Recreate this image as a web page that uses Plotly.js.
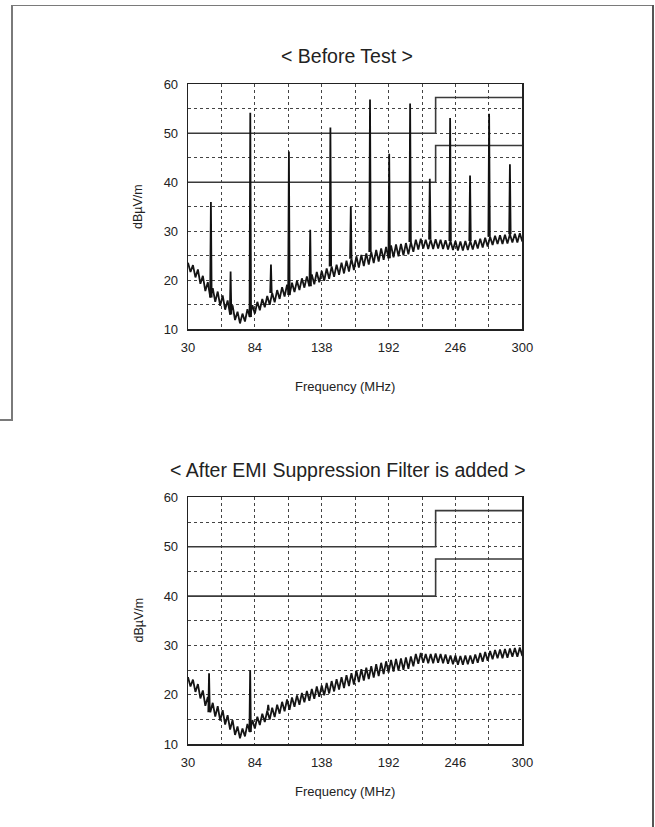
<!DOCTYPE html>
<html>
<head>
<meta charset="utf-8">
<script src="https://cdn.plot.ly/plotly-3.0.1.min.js"></script>
<style>
  html, body { margin: 0; padding: 0; background: #fff; }
  #wrap { position: relative; width: 655px; height: 827px; overflow: hidden; }
  #chart { position: absolute; left: 0; top: 0; width: 655px; height: 827px; }
  .fr { position: absolute; background: #7a7a7a; z-index: 10; pointer-events: none; }
</style>
</head>
<body>
<div id="wrap">
  <div id="chart"></div>
  <div class="fr" style="left:11px; top:5px; width:642px; height:1px;"></div>
  <div class="fr" style="left:11px; top:5px; width:1.5px; height:415px;"></div>
  <div class="fr" style="left:0px; top:419px; width:12.5px; height:1.5px;"></div>
  <div class="fr" style="left:652px; top:5px; width:1.5px; height:822px; background:#555;"></div>
</div>
<script>
// ---- data ----
var freqStart = 30;   // MHz
var freqStep = 2;     // MHz between noise-floor samples
var noiseFloor = [
  23.6, 21.7, 23.1, 20.6, 22.2, 19.3, 20.9, 17.8, 19.6, 16.5,
  18.4, 15.6, 17.7, 14.8, 16.9, 14.0, 15.9, 13.0, 14.9, 11.9,
  13.6, 11.2, 13.2, 11.6, 14.1, 12.5, 14.9, 13.2, 15.6, 13.9,
  16.2, 14.5, 16.8, 15.0, 17.4, 15.5, 18.0, 16.2, 18.6, 16.7,
  19.1, 17.0, 19.5, 17.6, 19.9, 18.0, 20.4, 18.5, 20.8, 18.8,
  21.2, 19.2, 21.7, 19.6, 21.9, 19.9, 22.4, 20.3, 22.8, 20.7,
  23.2, 21.1, 23.6, 21.4, 24.0, 21.8, 24.4, 22.1, 24.9, 22.6,
  25.2, 22.9, 25.5, 23.2, 25.8, 23.5, 26.2, 23.8, 26.5, 24.2,
  26.8, 24.5, 27.1, 24.7, 27.3, 24.9, 27.4, 25.1, 27.6, 25.3,
  27.8, 25.8, 28.3, 26.3, 28.5, 26.5, 28.3, 26.4, 28.3, 26.4,
  28.4, 26.5, 28.3, 26.4, 28.2, 26.3, 28.0, 26.2, 28.0, 26.1,
  27.9, 26.1, 28.0, 26.2, 28.0, 26.3, 28.2, 26.5, 28.5, 26.7,
  28.7, 26.9, 28.9, 27.2, 29.1, 27.4, 29.2, 27.4, 29.3, 27.5,
  29.4, 27.7, 29.5, 27.7, 29.6, 27.9
];
var beforeSpikeFreq = [48.5, 64.4, 80.3, 97, 111.5, 128.7, 145, 161.5, 177, 192.5, 209.4, 225.3, 241.7, 257.8, 273.2, 290];
var beforeSpikePeak = [36.0, 21.8, 54.2, 23.2, 46.3, 30.3, 51.2, 35.0, 56.9, 45.8, 56.1, 40.7, 53.1, 41.4, 54.0, 43.7];
var afterSpikeFreq = [47, 80.2, 94.8];
var afterSpikePeak = [24.4, 25.0, 18.0];

var limitFreq = [30, 230, 230, 300];
var limitLow = [40, 40, 47.5, 47.5];
var limitHigh = [50, 50, 57.3, 57.3];

var xTickLabels = ['30', '84', '138', '192', '246', '300'];
var titleBefore = '< Before Test >';
var titleAfter = '< After EMI Suppression Filter is added >';
var xTitle = 'Frequency (MHz)';
var yTitle = 'dBµV/m';

// ---- build ----
var noiseX = noiseFloor.map(function (v, i) { return freqStart + i * freqStep; });
function baseAt(f) {
  var i = Math.round((f - freqStart) / freqStep);
  i = Math.max(0, Math.min(noiseFloor.length - 1, i));
  return noiseFloor[i];
}
function spikeTrace(freqs, peaks, xa, ya) {
  var x = [], y = [];
  freqs.forEach(function (f, k) {
    var b = baseAt(f);
    x.push(f - 0.6, f, f + 0.6, null);
    y.push(b, peaks[k], b, null);
  });
  return { x: x, y: y, xaxis: xa, yaxis: ya, mode: 'lines', type: 'scatter',
           line: { color: '#111', width: 1.8 }, hoverinfo: 'skip', connectgaps: false };
}
function noiseTrace(xa, ya) {
  return { x: noiseX, y: noiseFloor, xaxis: xa, yaxis: ya, mode: 'lines', type: 'scatter',
           line: { color: '#151515', width: 1.8 }, hoverinfo: 'skip' };
}
function limitTrace(vals, xa, ya) {
  return { x: limitFreq, y: vals, xaxis: xa, yaxis: ya, mode: 'lines', type: 'scatter',
           line: { color: '#3a3a3a', width: 1.6 }, hoverinfo: 'skip' };
}

var data = [
  limitTrace(limitLow, 'x', 'y'), limitTrace(limitHigh, 'x', 'y'),
  noiseTrace('x', 'y'), spikeTrace(beforeSpikeFreq, beforeSpikePeak, 'x', 'y'),
  limitTrace(limitLow, 'x2', 'y2'), limitTrace(limitHigh, 'x2', 'y2'),
  noiseTrace('x2', 'y2'), spikeTrace(afterSpikeFreq, afterSpikePeak, 'x2', 'y2')
];

var FONT = 'Liberation Sans, Arial, Helvetica, sans-serif';
var tickFont = { family: FONT, size: 13, color: '#222' };
var xTickVals = xTickLabels.map(Number);

function xAxis(anchor) {
  return {
    domain: [188 / 655, 522.3 / 655], anchor: anchor, range: [30, 300],
    tickmode: 'array', tickvals: xTickVals, ticktext: xTickLabels,
    showgrid: true, gridcolor: '#444', griddash: 'dot', gridwidth: 1,
    minor: { tickmode: 'linear', tick0: 30, dtick: 27, showgrid: true, gridcolor: '#444', griddash: 'dot', gridwidth: 1, ticks: '' },
    showline: true, mirror: true, linecolor: '#222', linewidth: 1.3,
    ticks: '', ticklabelstandoff: 6, tickfont: tickFont, zeroline: false, fixedrange: true
  };
}
function yAxis(anchor, dom) {
  return {
    domain: dom, anchor: anchor, range: [10, 60],
    tickmode: 'linear', tick0: 10, dtick: 10,
    showgrid: true, gridcolor: '#444', griddash: 'dot', gridwidth: 1,
    minor: { tickmode: 'linear', tick0: 10, dtick: 5, showgrid: true, gridcolor: '#444', griddash: 'dot', gridwidth: 1, ticks: '' },
    showline: true, mirror: true, linecolor: '#222', linewidth: 1.3,
    ticks: '', ticklabelstandoff: 6, tickfont: tickFont, zeroline: false, fixedrange: true
  };
}

function ann(text, px, py, size, angle) {
  return { text: text, xref: 'paper', yref: 'paper', x: px / 655, y: 1 - py / 827,
           xanchor: 'center', yanchor: 'middle', showarrow: false, textangle: angle || 0,
           font: { family: FONT, size: size, color: '#222' } };
}

var layout = {
  width: 655, height: 827,
  margin: { l: 0, r: 0, t: 0, b: 0, pad: 0 },
  paper_bgcolor: '#fff', plot_bgcolor: '#fff',
  showlegend: false,
  xaxis: xAxis('y'), yaxis: yAxis('x', [1 - 329.3 / 827, 1 - 84.3 / 827]),
  xaxis2: xAxis('y2'), yaxis2: yAxis('x2', [1 - 744.3 / 827, 1 - 497.3 / 827]),
  annotations: [
    ann(titleBefore, 347, 56, 19.5),
    ann(titleAfter, 347.5, 470, 19.5),
    ann(xTitle, 345, 386, 13),
    ann(xTitle, 345, 791, 13),
    ann(yTitle, 138, 207, 12.5, -90),
    ann(yTitle, 138, 620.5, 12.5, -90)
  ]
};

Plotly.newPlot('chart', data, layout, { staticPlot: true, displayModeBar: false });
</script>
</body>
</html>
